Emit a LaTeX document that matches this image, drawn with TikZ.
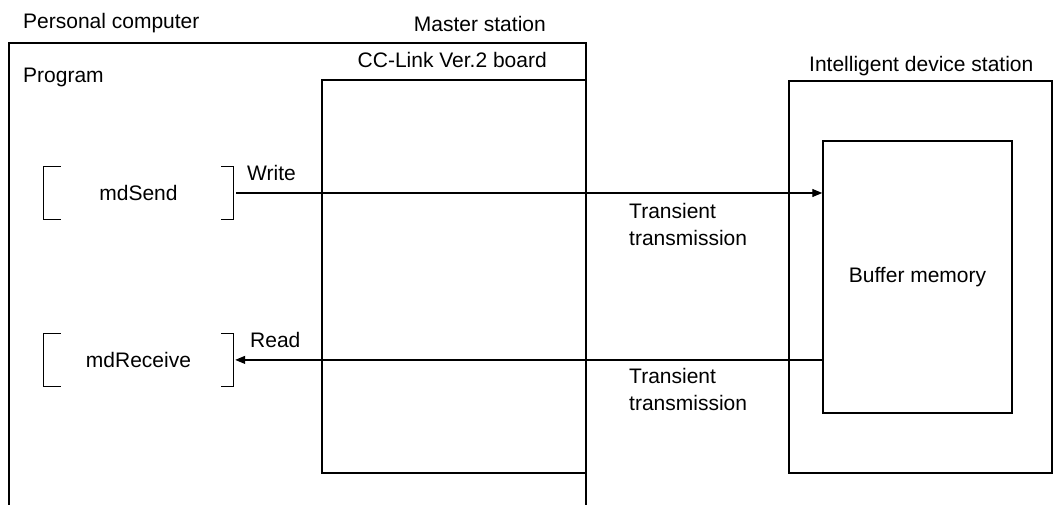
\documentclass[tikz,border=0pt]{standalone}
\usepackage{fontspec}
\setmainfont{Liberation Sans}
\usetikzlibrary{arrows.meta, positioning}
\tikzset{
	font={\fontsize{21}{27}\selectfont}}
\tikzstyle{rect_sharp} = [rectangle, draw=black, line width=1.2pt, inner sep=0]
\tikzstyle{caption} = [inner sep=0, anchor=base west]
\tikzstyle{bracketbox} = [rectangle, inner sep=0, minimum width=189pt, minimum height=52pt]
\tikzstyle{arrow} = [line width=1.2pt, -{Triangle[length=10pt, width=8pt]}]
\tikzstyle{line} = [line width=1.2pt, -]

\begin{document}
\begin{tikzpicture}[x=1pt, y=-1pt]
\useasboundingbox (0,0) rectangle (1053,505);

% Personal computer (open at the bottom)
\draw[line] (9,505) |- (586,43) -- (586,505);
\node[caption] (pc) at (23,29) {Personal computer};
\node[caption] (program) at (23,83) {Program};

% Master station
\node[rect_sharp, minimum width=264pt, minimum height=393pt] (board) at (454,276.5) {};
\node[caption, anchor=base east] (master) at (546,32) {Master station};
\node[caption, anchor=base east] (boardname) at (547,68) {CC-Link Ver.2 board};

% Intelligent device station
\node[rect_sharp, minimum width=263pt, minimum height=392pt] (station) at (920.5,277) {};
\node[caption] (stationname) at (809,72) {Intelligent device station};
\node[rect_sharp, line width=1.5pt, minimum width=189pt, minimum height=272pt] (buffer) at (917.5,277) {Buffer memory};

% Functions
\node[bracketbox] (send) at (138.5,193) {mdSend};
\node[bracketbox, below=114.5pt of send] (receive) {mdReceive};
\foreach \n in {send, receive} {
	\draw[line] ([xshift=17pt]\n.north west) -- (\n.north west) -- (\n.south west) -- ([xshift=17pt]\n.south west);
	\draw[line] ([xshift=-12pt]\n.north east) -- (\n.north east) -- (\n.south east) -- ([xshift=-12pt]\n.south east);
}

% Transfers
\draw[arrow] ([xshift=3pt]send.east) -- (send.east -| buffer.west);
\draw[arrow] (buffer.west |- receive.east) -- ([xshift=2pt]receive.east);
\node[caption] (write) at (247,181) {Write};
\node[caption] (read) at (250,347) {Read};
\node[inner sep=0, anchor=north west, align=left] (transwrite) at (629,203) {Transient\\transmission};
\node[inner sep=0, anchor=north west, align=left] (transread) at (629,368) {Transient\\transmission};

\end{tikzpicture}
\end{document}
